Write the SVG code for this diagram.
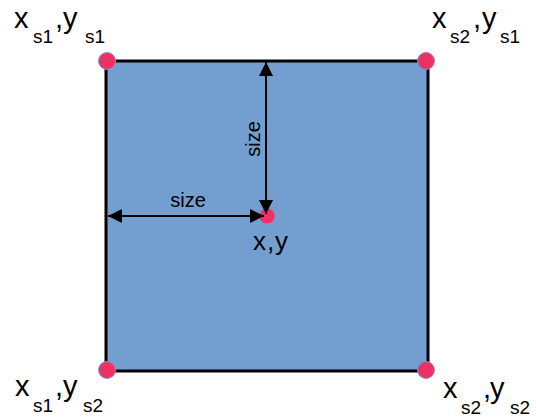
<svg xmlns="http://www.w3.org/2000/svg" width="536" height="420" viewBox="0 0 536 420">
<style>
text{font-family:"Liberation Sans",Arial,sans-serif;fill:#000}
.lab{font-size:29px}
.sub{font-size:19px}
.pt{fill:#ec3163;stroke:#8a8fd0;stroke-width:1}
.ln{stroke:#000;stroke-width:2;fill:none}
</style>
<defs>
<marker id="ah" viewBox="0 0 14 14" refX="14" refY="7" markerWidth="14" markerHeight="14" markerUnits="userSpaceOnUse" orient="auto-start-reverse">
<path d="M0,0 L14,7 L0,14 Z" fill="#000"/>
</marker>
</defs>
<g id="square">
<rect x="106" y="61" width="322" height="310" fill="#729fcf" stroke="#000" stroke-width="3"/>
</g>
<g id="center">
<circle class="pt" cx="267" cy="216" r="8"/>
<text font-size="26" y="250"><tspan x="253">x</tspan><tspan x="267">,</tspan><tspan x="275">y</tspan></text>
</g>
<g id="connectors">
<line class="ln" x1="108" y1="216" x2="264" y2="216" marker-start="url(#ah)" marker-end="url(#ah)"/>
<line class="ln" x1="266" y1="62" x2="266" y2="214" marker-start="url(#ah)" marker-end="url(#ah)"/>
<text x="188" y="207" font-size="20" text-anchor="middle">size</text>
<text transform="translate(260,139) rotate(-90)" font-size="20" text-anchor="middle">size</text>
</g>
<g id="c1">
<circle class="pt" cx="107" cy="61" r="8.5"/>
<text class="lab" y="28"><tspan x="14">x</tspan><tspan class="sub" x="33" y="43">s1</tspan><tspan x="55" y="28">,</tspan><tspan x="63">y</tspan><tspan class="sub" x="85" y="43">s1</tspan></text>
</g>
<g id="c2">
<circle class="pt" cx="426" cy="61" r="8.5"/>
<text class="lab" y="28"><tspan x="432">x</tspan><tspan class="sub" x="450" y="43">s2</tspan><tspan x="473" y="28">,</tspan><tspan x="482">y</tspan><tspan class="sub" x="500" y="43">s1</tspan></text>
</g>
<g id="c3">
<circle class="pt" cx="107" cy="370" r="8.5"/>
<text class="lab" y="396"><tspan x="15">x</tspan><tspan class="sub" x="33" y="412">s1</tspan><tspan x="55" y="396">,</tspan><tspan x="63">y</tspan><tspan class="sub" x="83" y="412">s2</tspan></text>
</g>
<g id="c4">
<circle class="pt" cx="426" cy="370" r="8.5"/>
<text class="lab" y="398"><tspan x="443">x</tspan><tspan class="sub" x="461" y="414">s2</tspan><tspan x="483" y="398">,</tspan><tspan x="490">y</tspan><tspan class="sub" x="510" y="414">s2</tspan></text>
</g>
</svg>
